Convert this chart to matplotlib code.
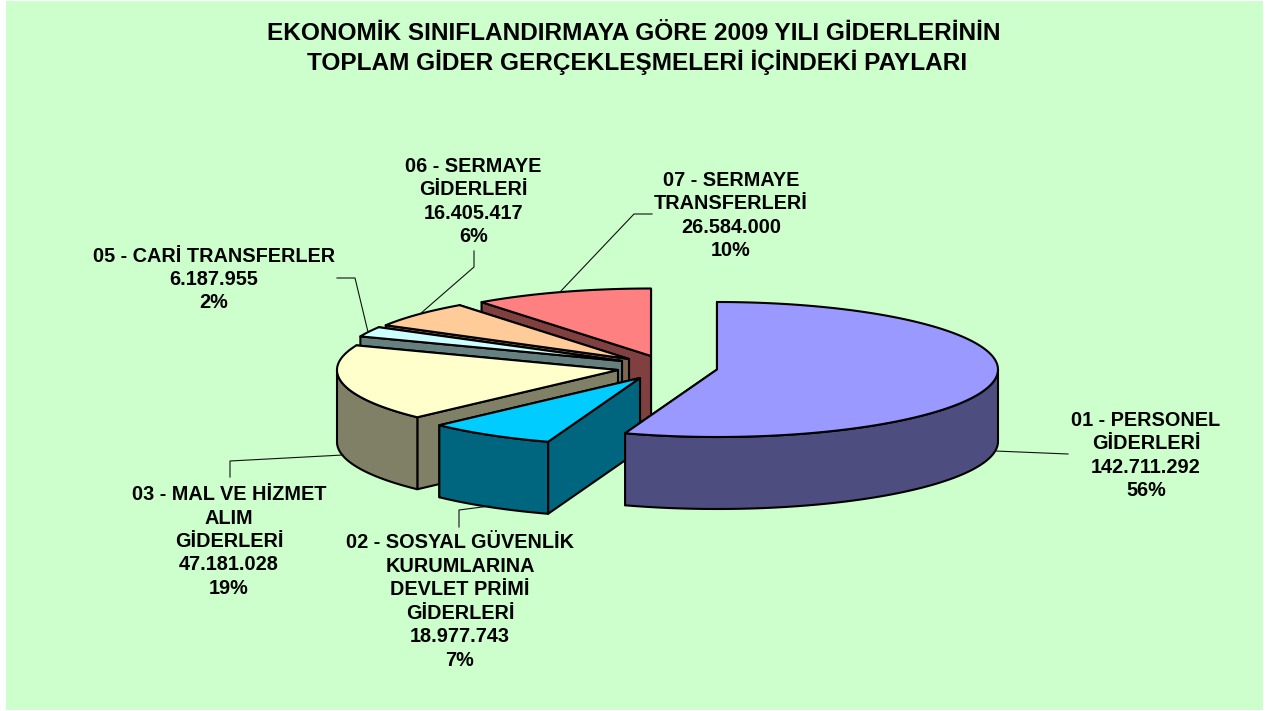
import numpy as np
import matplotlib
matplotlib.use('Agg')
import matplotlib.pyplot as plt
from matplotlib.patches import Polygon, Rectangle

plt.rcParams['font.family'] = ['Liberation Sans', 'DejaVu Sans']

title_lines = ['EKONOMİK SINIFLANDIRMAYA GÖRE 2009 YILI GİDERLERİNİN',
               'TOPLAM GİDER GERÇEKLEŞMELERİ İÇİNDEKİ PAYLARI']

names = ['01 - PERSONEL\nGİDERLERİ',
         '02 - SOSYAL GÜVENLİK\nKURUMLARINA\nDEVLET PRİMİ\nGİDERLERİ',
         '03 - MAL VE HİZMET\nALIM\nGİDERLERİ',
         '05 - CARİ TRANSFERLER',
         '06 - SERMAYE\nGİDERLERİ',
         '07 - SERMAYE\nTRANSFERLERİ']
values = [142711292, 18977743, 47181028, 6187955, 16405417, 26584000]
percents = [56, 7, 19, 2, 6, 10]

top_colors = ['#9999FF', '#00CCFF', '#FFFFCC', '#CCFFFF', '#FFCC99', '#FF8080']
side_colors = ['#4D4D80', '#006680', '#808066', '#668080', '#80664D', '#804040']

# apex of each exploded slice, in pixels
apex = [(717, 369.5), (640, 378), (618, 370), (622, 361), (629, 359), (651, 356)]
label_pos = [(1146, 455.5), (460, 601.5), (229, 541.5), (214, 279.5), (473.5, 201.5), (731, 215.5)]
leaders = [[(995, 451), (1068, 454)],
           [(490, 506), (459, 510), (459, 527)],
           [(343, 455), (230, 461), (230, 477)],
           [(368, 332), (355, 278), (337, 278)],
           [(420, 314), (474, 267), (474, 251)],
           [(560, 292), (634, 214), (652, 214)]]

RX = 281
RY = 67.5
DEPTH = 72


def arc(c, a0, a1):
    # angles clockwise from the top of the pie, degrees
    t = np.radians(np.linspace(a0, a1, 120))
    return np.column_stack([c[0] + RX * np.sin(t), c[1] - RY * np.cos(t)])


def add_poly(ax, pts, color, z):
    ax.add_patch(Polygon(pts, closed=True, facecolor=color, edgecolor='black',
                         linewidth=1.5, joinstyle='round', zorder=z))


def draw_slice(ax, c, a0, a1, top, side, z):
    c = np.array(c, dtype=float)
    down = np.array([0, DEPTH])
    edge = arc(c, a0, a1)
    # the two cut faces
    for p in (edge[-1], edge[0]):
        add_poly(ax, [c, p, p + down, c + down], side, z)
    # outer wall, only the part facing us
    f0, f1 = max(a0, 90), min(a1, 270)
    if f1 > f0:
        wall = arc(c, f0, f1)
        add_poly(ax, np.vstack([wall, wall[::-1] + down]), side, z)
    add_poly(ax, np.vstack([c, edge]), top, z)


fig = plt.figure(figsize=(12.68, 7.11), dpi=100)
ax = fig.add_axes([0, 0, 1, 1])
ax.set_xlim(0, 1268)
ax.set_ylim(711, 0)
ax.axis('off')

ax.add_patch(Rectangle((6, 1), 1257, 709, facecolor='#CCFFCC', edgecolor='none', zorder=0))

ax.text(634, 33.5, title_lines[0], ha='center', va='center', fontsize=17.6,
        fontweight='bold', color='black', zorder=20)
ax.text(637.5, 62.5, title_lines[1], ha='center', va='center', fontsize=17.6,
        fontweight='bold', color='black', zorder=20)

angles = np.cumsum([0] + values) / sum(values) * 360

# back slices first
for i in [5, 4, 3, 2, 1, 0]:
    draw_slice(ax, apex[i], angles[i], angles[i + 1], top_colors[i], side_colors[i], 5 + (5 - i))

for line in leaders:
    xs, ys = zip(*line)
    ax.plot(xs, ys, color='#111111', linewidth=0.8, zorder=15)

for i in range(len(values)):
    txt = '{}\n{}\n{}%'.format(names[i], f'{values[i]:,}'.replace(',', '.'), percents[i])
    ax.text(label_pos[i][0], label_pos[i][1], txt, ha='center', va='center', fontsize=14.3,
            fontweight='bold', linespacing=1.3, color='black', zorder=20)

fig.savefig('out.png', dpi=100)
